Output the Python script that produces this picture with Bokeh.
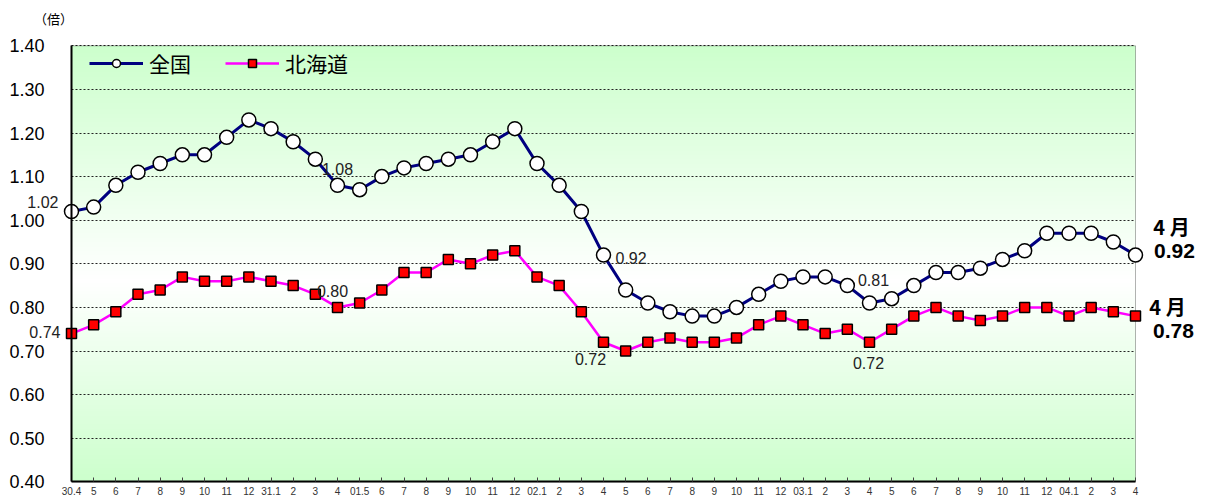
import numpy as np
from bokeh.plotting import figure
from bokeh.models import (Range1d, FixedTicker, Legend, LegendItem, Label,
                          BoxAnnotation, NumeralTickFormatter)
from bokeh.embed import file_html
from bokeh.resources import INLINE

# ---------------- data ----------------
months = ["30.4", "5", "6", "7", "8", "9", "10", "11", "12",
          "31.1", "2", "3", "4",
          "01.5", "6", "7", "8", "9", "10", "11", "12",
          "02.1", "2", "3", "4", "5", "6", "7", "8", "9", "10", "11", "12",
          "03.1", "2", "3", "4", "5", "6", "7", "8", "9", "10", "11", "12",
          "04.1", "2", "3", "4"]

national = [1.02, 1.03, 1.08, 1.11, 1.13, 1.15, 1.15, 1.19, 1.23,
            1.21, 1.18, 1.14, 1.08,
            1.07, 1.10, 1.12, 1.13, 1.14, 1.15, 1.18, 1.21,
            1.13, 1.08, 1.02, 0.92, 0.84, 0.81, 0.79, 0.78, 0.78, 0.80, 0.83, 0.86,
            0.87, 0.87, 0.85, 0.81, 0.82, 0.85, 0.88, 0.88, 0.89, 0.91, 0.93, 0.97,
            0.97, 0.97, 0.95, 0.92]

hokkaido = [0.74, 0.76, 0.79, 0.83, 0.84, 0.87, 0.86, 0.86, 0.87,
            0.86, 0.85, 0.83, 0.80,
            0.81, 0.84, 0.88, 0.88, 0.91, 0.90, 0.92, 0.93,
            0.87, 0.85, 0.79, 0.72, 0.70, 0.72, 0.73, 0.72, 0.72, 0.73, 0.76, 0.78,
            0.76, 0.74, 0.75, 0.72, 0.75, 0.78, 0.80, 0.78, 0.77, 0.78, 0.80, 0.80,
            0.78, 0.80, 0.79, 0.78]

series_names = ["全国", "北海道"]
y_ticks = [0.4, 0.5, 0.6, 0.7, 0.8, 0.9, 1.0, 1.1, 1.2, 1.3, 1.4]
annotated_idx = [0, 12, 24, 36]
unit_label = "（倍）"
last_month_label = "4 月"

# ---------------- layout (pixels) ----------------
W, H = 1205, 496
px_left, px_right = 71.0, 1135.0     # where first / last month sit
px_top, px_bottom = 45.3, 481.3      # where 1.40 / 0.40 sit

x = list(range(len(months)))
n_last = len(months) - 1
ymin, ymax = y_ticks[0], y_ticks[-1]

ux = n_last / (px_right - px_left)          # data units per px (x)
uy = (ymax - ymin) / (px_bottom - px_top)   # data units per px (y)
x_rng = Range1d(0 - px_left * ux, n_last + (W - px_right) * ux)
y_rng = Range1d(ymin - (H - px_bottom) * uy, ymax + px_top * uy)

p = figure(width=W, height=H, x_range=x_rng, y_range=y_rng,
           output_backend="svg", toolbar_location=None,
           min_border=0, min_border_left=0, min_border_right=0,
           min_border_top=0, min_border_bottom=0)
p.outline_line_color = None
p.background_fill_color = "white"
p.border_fill_color = "white"

# gradient background (green - white - green)
N = 200
img = np.empty((N, 1), dtype=np.uint32)
view = img.view(dtype=np.uint8).reshape((N, 1, 4))
white_at = 0.86
green = np.array([204, 255, 204], dtype=float)
whitec = np.array([255, 255, 255], dtype=float)
for i in range(N):
    v = ymin + (i + 0.5) / N * (ymax - ymin)
    if v >= white_at:
        t = (v - white_at) / (ymax - white_at)
    else:
        t = (white_at - v) / (white_at - ymin)
    t = min(1.0, t)
    c = whitec * (1 - t) + green * t
    view[i, 0, 0] = int(round(c[0]))
    view[i, 0, 1] = int(round(c[1]))
    view[i, 0, 2] = int(round(c[2]))
    view[i, 0, 3] = 255
bg = p.image_rgba(image=[img], x=0, y=ymin, dw=n_last, dh=ymax - ymin)
bg.level = "image"

# grid
p.xgrid.visible = False
g = p.ygrid[0]
if "cross_bounds" in g.properties():
    g.cross_bounds = (0, n_last)
    g.grid_line_color = "#222222"
    g.grid_line_dash = "2 2"
    g.grid_line_width = 1
else:
    g.visible = False
    p.segment(x0=[0] * len(y_ticks[1:-1]), x1=[n_last] * len(y_ticks[1:-1]),
              y0=y_ticks[1:-1], y1=y_ticks[1:-1],
              line_color="#222222", line_dash="2 2", line_width=1, level="underlay")

# plot-area border
p.add_layout(BoxAnnotation(left=0, right=n_last, bottom=ymin, top=ymax,
                           fill_alpha=0, line_color="black", line_width=1,
                           level="underlay"))

# series
ln = p.line(x, national, line_color="#000080", line_width=3)
sn = p.scatter(x, national, marker="circle", size=14, fill_color="white",
               line_color="black", line_width=1.5)
lh = p.line(x, hokkaido, line_color="#FF00FF", line_width=2.5)
sh = p.scatter(x, hokkaido, marker="square", size=10, fill_color="#FF0000",
               line_color="black", line_width=1.5)

legend = Legend(items=[LegendItem(label=series_names[0], renderers=[ln, sn]),
                       LegendItem(label=series_names[1], renderers=[lh, sh])],
                orientation="horizontal", location=(79, 408),
                glyph_width=54, glyph_height=20, label_standoff=6, spacing=34,
                padding=10, margin=0,
                label_text_font="Noto Sans CJK JP", label_text_font_size="21px",
                label_text_color="black",
                border_line_alpha=0, background_fill_alpha=0)
p.add_layout(legend)

# axes (fixed at the data origin so the frame can cover the whole canvas)
p.yaxis.fixed_location = 0
p.yaxis.bounds = (ymin, ymax)
p.yaxis.ticker = FixedTicker(ticks=y_ticks)
p.yaxis.formatter = NumeralTickFormatter(format="0.00")
p.yaxis.axis_line_color = "black"
p.yaxis.axis_line_width = 2
p.yaxis.major_tick_line_color = None
p.yaxis.minor_tick_line_color = None
p.yaxis.major_label_standoff = 21
p.yaxis.major_label_text_font = "Liberation Sans"
p.yaxis.major_label_text_font_size = "18px"
p.yaxis.major_label_text_color = "black"

p.xaxis.fixed_location = ymin
p.xaxis.ticker = FixedTicker(ticks=x)
p.xaxis.major_label_overrides = {i: m for i, m in enumerate(months)}
p.xaxis.bounds = (0, n_last)
p.xaxis.axis_line_color = "black"
p.xaxis.axis_line_width = 2
p.xaxis.major_tick_in = 4
p.xaxis.major_tick_out = 0
p.xaxis.major_tick_line_color = "#444444"
p.xaxis.minor_tick_line_color = None
p.xaxis.major_label_standoff = 5
p.xaxis.major_label_text_font = "Liberation Sans"
p.xaxis.major_label_text_font_size = "10px"
p.xaxis.major_label_text_color = "#333333"

# value annotations
num_font = "Liberation Sans"
n_offsets = {0: ("right", -13, 9), 12: ("center", 0, 16), 24: ("left", 12, -3), 36: ("center", 4, 23)}
h_offsets = {0: ("right", -11, 2), 12: ("center", -5, 16), 24: ("center", -13, -17), 36: ("center", -1, -21)}
for series, offs in ((national, n_offsets), (hokkaido, h_offsets)):
    for idx in annotated_idx:
        al, dx, dy = offs[idx]
        p.add_layout(Label(x=x[idx], y=series[idx], text=f"{series[idx]:.2f}",
                           x_offset=dx, y_offset=dy, text_align=al, text_baseline="middle",
                           text_font=num_font, text_font_size="16px", text_color="#222222"))

# latest-month labels at right
for series, (mx, my), (vx, vy) in ((national, (36, 29), (39, 4)),
                                    (hokkaido, (32, 10), (38, -15))):
    p.add_layout(Label(x=x[-1], y=series[-1], text=last_month_label,
                       x_offset=mx, y_offset=my, text_align="center", text_baseline="middle",
                       text_font="Noto Sans CJK JP", text_font_size="20px",
                       text_font_style="bold", text_color="black"))
    p.add_layout(Label(x=x[-1], y=series[-1], text=f"{series[-1]:.2f}",
                       x_offset=vx, y_offset=vy, text_align="center", text_baseline="middle",
                       text_font="Liberation Sans", text_font_size="21px",
                       text_font_style="bold", text_color="black"))

# unit label
p.add_layout(Label(x=0, y=ymax, text=unit_label, x_offset=-18, y_offset=27,
                   text_align="center", text_baseline="middle",
                   text_font="Noto Sans CJK JP", text_font_size="13px", text_color="black"))

open("out.html", "w").write(file_html(p, INLINE))
